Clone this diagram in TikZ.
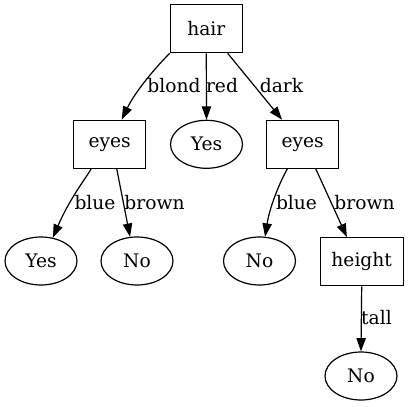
\documentclass[tikz,border=0pt]{standalone}
\usepackage{fontspec}
\setmainfont{DejaVu Serif}
\usetikzlibrary{shapes.geometric,arrows.meta}
\begin{document}
\begin{tikzpicture}[x=0.75pt,y=-0.75pt,
  font=\fontsize{14pt}{16pt}\selectfont,
  every path/.style={line width=0.9pt},
  boxnode/.style={draw,rectangle,inner sep=0pt,minimum width=54pt,minimum height=36pt},
  leaf/.style={draw,ellipse,inner sep=0pt,minimum width=54pt,minimum height=36pt},
  lbl/.style={inner sep=0pt},
  edge/.style={-{Triangle[length=10pt,width=7pt]}}]
\useasboundingbox (0,0) rectangle (408,407);
\node[boxnode] (hair) at (206.3,28.7) {hair};
\node[boxnode] (eyesL) at (109.7,144.3) {eyes};
\node[leaf] (yesM) at (206.5,144.3) {Yes};
\node[boxnode] (eyesR) at (302.7,144.3) {eyes};
\node[leaf] (yesL) at (41,261) {Yes};
\node[leaf] (noL) at (137,261) {No};
\node[leaf] (noR) at (259.5,261) {No};
\node[boxnode,minimum width=62.3pt] (height) at (361.7,261.7) {height};
\node[leaf] (noB) at (361,376) {No};
\draw[edge] (hair.south west) .. controls (155,68) and (135,92) .. (eyesL.64);
\draw[edge] (hair.south) -- (yesM.north);
\draw[edge] (hair.-49.6) -- (eyesR.130.6);
\draw[edge] (eyesL.-127.7) .. controls (86,178) and (70,198) .. (yesL.63);
\draw[edge] (eyesL.-74.9) -- (noL.106.3);
\draw[edge] (eyesR.-122.8) .. controls (281,180) and (270,205) .. (noR.77.1);
\draw[edge] (eyesR.-62.2) -- (height.121.3);
\draw[edge] (height.south) -- (noB.north);
\node[lbl] (lblond) at (174,86) {blond};
\node[lbl] (lred) at (222,86) {red};
\node[lbl] (ldark) at (281.5,86) {dark};
\node[lbl] (lblueL) at (95,203) {blue};
\node[lbl] (lbrownL) at (154.5,203) {brown};
\node[lbl] (lblueR) at (296.5,203) {blue};
\node[lbl] (lbrownR) at (364.5,203) {brown};
\node[lbl] (ltall) at (376.5,318) {tall};
\end{tikzpicture}
\end{document}
